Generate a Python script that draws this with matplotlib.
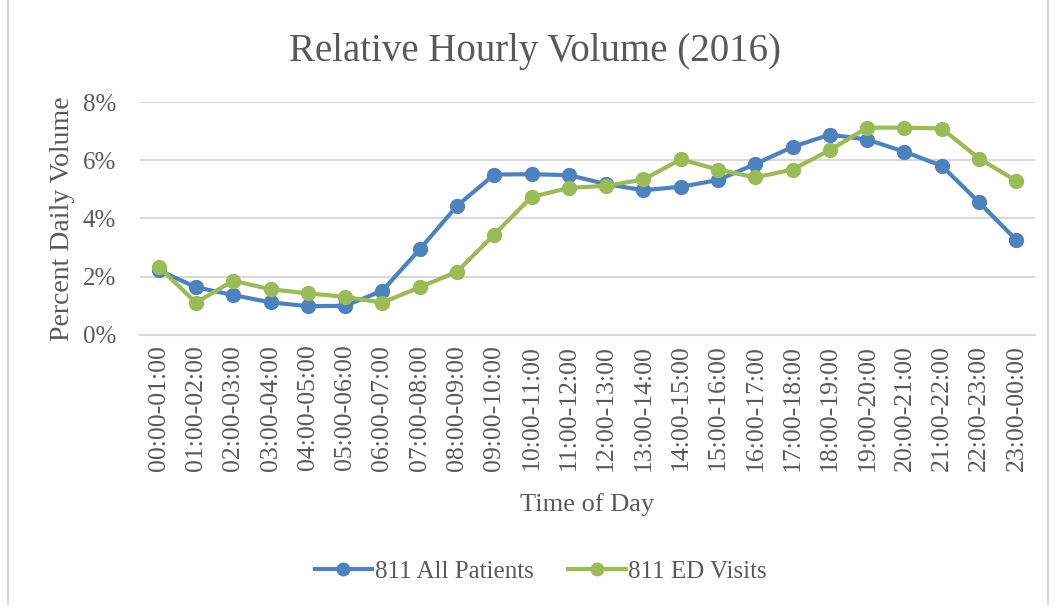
import matplotlib
matplotlib.use("Agg")
import matplotlib.pyplot as plt
from matplotlib.patches import Rectangle
from matplotlib.ticker import FuncFormatter, MultipleLocator

plt.rcParams["font.family"] = ["Liberation Serif", "DejaVu Serif"]

hours = [f"{h:02d}:00-{(h + 1) % 24:02d}:00" for h in range(24)]
all_patients = [2.23, 1.64, 1.37, 1.12, 0.99, 1.00, 1.52, 2.94, 4.43, 5.51, 5.52, 5.49,
                5.18, 4.97, 5.09, 5.32, 5.87, 6.46, 6.88, 6.71, 6.29, 5.81, 4.55, 3.26]
ed_visits = [2.34, 1.11, 1.86, 1.57, 1.43, 1.31, 1.11, 1.64, 2.17, 3.45, 4.74, 5.05,
             5.12, 5.34, 6.03, 5.68, 5.41, 5.68, 6.35, 7.12, 7.12, 7.09, 6.06, 5.29]

GREY = "#595959"
fig = plt.figure(figsize=(10.54, 6.05), dpi=100)
ax = fig.add_axes([0.1328, 0.4463, 0.8492, 0.3851])

x = range(len(hours))
ax.plot(x, all_patients, "o-", color="#4F81BD", lw=3, ms=10, label="811 All Patients")
ax.plot(x, ed_visits, "o-", color="#9BBB59", lw=3, ms=10, label="811 ED Visits")

ax.set_xlim(-0.5, 23.5)
ax.set_ylim(0, 8)
ax.yaxis.set_major_locator(MultipleLocator(2))
ax.yaxis.set_major_formatter(FuncFormatter(lambda v, _: f"{v:.0f}%"))
ax.set_xticks(list(x))
ax.set_xticklabels(hours, rotation=90)
ax.grid(axis="y", color="#D9D9D9", lw=1.5)
ax.set_axisbelow(True)
for s in ["top", "right", "left"]:
    ax.spines[s].set_visible(False)
ax.spines["bottom"].set_color("#D9D9D9")
ax.spines["bottom"].set_linewidth(1.5)
ax.tick_params(length=0, labelcolor=GREY)
ax.tick_params(axis="x", pad=7, labelsize=18.5)
ax.tick_params(axis="y", pad=17, labelsize=18)

fig.text(0.508, 0.915, "Relative Hourly Volume (2016)", fontsize=28, color=GREY,
         ha="center", va="center")
ax.set_xlabel("Time of Day", fontsize=19, color=GREY, labelpad=16)
ax.set_ylabel("Percent Daily Volume", fontsize=20, color=GREY, labelpad=6)

fig.legend(loc="center", bbox_to_anchor=(0.513, 0.055), ncol=2, frameon=False,
           fontsize=18, labelcolor=GREY, handlelength=2.3, columnspacing=1.4,
           handletextpad=0.1, markerscale=0.9)

fig.patches.append(Rectangle((8 / 1054, -0.01), 1040 / 1054, 1.02, transform=fig.transFigure,
                             fill=False, edgecolor="#D9D9D9", lw=1.5))

fig.savefig("out.png", dpi=100)
